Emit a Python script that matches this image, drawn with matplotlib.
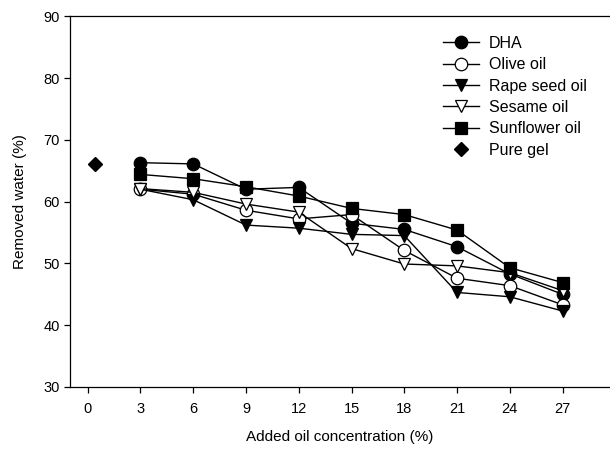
import matplotlib
matplotlib.use("Agg")
import matplotlib.pyplot as plt

plt.rcParams['font.family'] = ['Liberation Sans', 'DejaVu Sans']

# added oil concentration (%)
conc = [3, 6, 9, 12, 15, 18, 21, 24, 27]

# removed water (%)
dha = [66.3, 66.1, 62.0, 62.3, 56.5, 55.5, 52.7, 48.3, 45.0]
olive = [62.0, 61.2, 58.6, 57.2, 57.9, 52.1, 47.6, 46.4, 43.3]
rape = [62.0, 60.3, 56.2, 55.7, 54.7, 54.5, 45.3, 44.6, 42.3]
sesame = [62.1, 61.5, 59.6, 58.3, 52.4, 49.9, 49.6, 48.5, 45.6]
sunflower = [64.4, 63.7, 62.4, 60.9, 58.9, 57.9, 55.4, 49.3, 46.9]

pure_x = [0.4]
pure_y = [66.1]

series = [
    ("DHA", dha, "o", "black"),
    ("Olive oil", olive, "o", "white"),
    ("Rape seed oil", rape, "v", "black"),
    ("Sesame oil", sesame, "v", "white"),
    ("Sunflower oil", sunflower, "s", "black"),
]

fig = plt.figure(figsize=(6.1, 4.5), dpi=100)
ax = fig.add_axes([0.115, 0.14, 0.885, 0.824])

for name, vals, mk, fc in series:
    ax.plot(conc, vals, color="black", lw=1.0, marker=mk, ms=9,
            mfc=fc, mec="black", mew=0.9, label=name)
ax.plot(pure_x, pure_y, ls="none", marker="D", ms=7.5, color="black",
        label="Pure gel")

ax.set_xlim(-1.0, 29.7)
ax.set_ylim(30, 90)
ax.set_xticks(range(0, 28, 3))
ax.set_yticks(range(30, 91, 10))
ax.tick_params(direction="out", length=4, labelsize=10.5, width=0.9)
ax.tick_params(axis="x", pad=7)
ax.spines["right"].set_visible(False)
for s in ["left", "bottom", "top"]:
    ax.spines[s].set_linewidth(0.9)

ax.set_xlabel("Added oil concentration (%)", fontsize=11, labelpad=10)
ax.set_ylabel("Removed water (%)", fontsize=11, labelpad=12)

ax.legend(loc="upper left", bbox_to_anchor=(0.69, 0.947), frameon=False,
          fontsize=11.5, handlelength=2.3, labelspacing=0.4,
          handletextpad=0.6, borderpad=0, borderaxespad=0)

fig.savefig("out.png", dpi=100)
